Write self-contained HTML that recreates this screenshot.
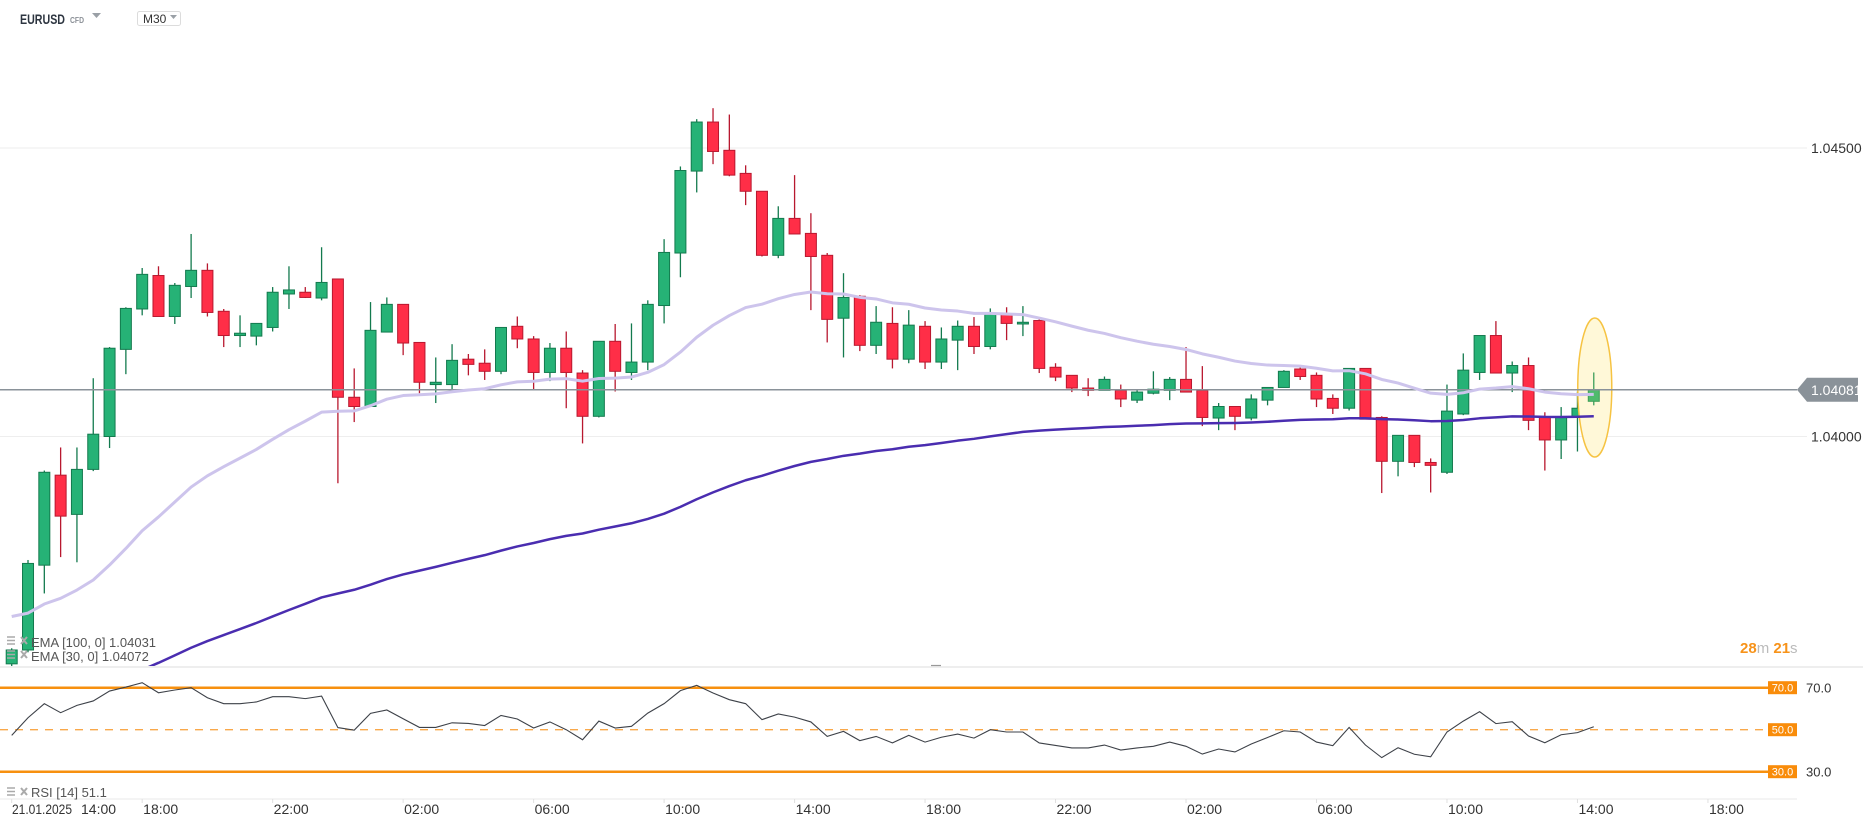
<!DOCTYPE html>
<html><head><meta charset="utf-8"><style>
html,body{margin:0;padding:0;background:#fff;}
body{width:1866px;height:826px;overflow:hidden;position:relative;font-family:"Liberation Sans",sans-serif;}
svg{position:absolute;left:0;top:0;}
</style></head><body>
<svg id="chart" width="1866" height="826" viewBox="0 0 1866 826" xmlns="http://www.w3.org/2000/svg">
  <defs><clipPath id="mainClip"><rect x="0" y="0" width="1800" height="666"/></clipPath></defs>
  <g>
    <text x="20" y="24" font-size="14" font-weight="bold" fill="#2d3540" textLength="45" lengthAdjust="spacingAndGlyphs">EURUSD</text>
    <text x="70" y="23" font-size="8" font-weight="bold" fill="#8a8f96" textLength="14" lengthAdjust="spacingAndGlyphs">CFD</text>
    <path d="M92 13 L101 13 L96.5 18 Z" fill="#9aa0a6"/>
    <rect x="137.5" y="11.5" width="43" height="14" rx="2" fill="#fff" stroke="#dcdcdc"/>
    <text x="143" y="23" font-size="12" fill="#333">M30</text>
    <path d="M170 15 L177 15 L173.5 19 Z" fill="#9aa0a6"/>
  </g>
  <g id="grid"></g>
  <g id="candles" clip-path="url(#mainClip)"></g>
  <g id="emas" clip-path="url(#mainClip)"></g>
  <g id="priceaxis"></g>
  <g id="rsi"></g>
  <g id="timeaxis"></g>
  <g font-size="13" fill="#555">
    <g>
      <path d="M7 637h8M7 640.5h8M7 644h8" stroke="#aaa" stroke-width="1.6"/>
      <path d="M21 637l6 7M27 637l-6 7" stroke="#aaa" stroke-width="2"/>
      <text x="31" y="647">EMA [100, 0] 1.04031</text>
    </g>
    <g>
      <path d="M7 651h8M7 654.5h8M7 658h8" stroke="#aaa" stroke-width="1.6"/>
      <path d="M21 651l6 7M27 651l-6 7" stroke="#aaa" stroke-width="2"/>
      <text x="31" y="661">EMA [30, 0] 1.04072</text>
    </g>
    <g>
      <path d="M7 788h8M7 791.5h8M7 795h8" stroke="#aaa" stroke-width="1.6"/>
      <path d="M21 788l6 7M27 788l-6 7" stroke="#aaa" stroke-width="2"/>
      <text x="31" y="797">RSI [14] 51.1</text>
    </g>
  </g>
  <text x="1740" y="653" font-size="15"><tspan fill="#f7931a" font-weight="bold">28</tspan><tspan fill="#bbb">m </tspan><tspan fill="#f7931a" font-weight="bold">21</tspan><tspan fill="#bbb">s</tspan></text>
</svg>
<script>
const opens=[1.03606,1.03630,1.03777,1.03933,1.03865,1.03943,1.04000,1.04151,1.04221,1.04279,
1.04208,1.04260,1.04288,1.04217,1.04175,1.04174,1.04189,1.04247,1.04250,1.04240,
1.04273,1.04068,1.04052,1.04181,1.04229,1.04163,1.04090,1.04090,1.04134,1.04127,
1.04113,1.04191,1.04169,1.04111,1.04153,1.04110,1.04035,1.04165,1.04111,1.04129,
1.04227,1.04318,1.04460,1.04545,1.04496,1.04456,1.04425,1.04314,1.04378,1.04352,
1.04314,1.04205,1.04243,1.04158,1.04196,1.04134,1.04191,1.04129,1.04167,1.04191,
1.04156,1.04212,1.04195,1.04201,1.04120,1.04106,1.04084,1.04080,1.04080,1.04063,
1.04075,1.04080,1.04099,1.04080,1.04032,1.04052,1.04032,1.04063,1.04085,1.04117,
1.04106,1.04066,1.04049,1.04118,1.04033,1.03957,1.04002,1.03955,1.03938,1.04039,
1.04111,1.04175,1.04110,1.04123,1.04033,1.03994,1.04033,1.04061];
const highs=[1.03633,1.03786,1.03941,1.03981,1.03981,1.04101,1.04155,1.04224,1.04292,1.04295,
1.04266,1.04351,1.04300,1.04221,1.04210,1.04196,1.04259,1.04295,1.04259,1.04328,
1.04273,1.04118,1.04233,1.04241,1.04229,1.04163,1.04137,1.04160,1.04143,1.04151,
1.04189,1.04208,1.04174,1.04162,1.04182,1.04115,1.04165,1.04195,1.04196,1.04236,
1.04342,1.04468,1.04550,1.04569,1.04558,1.04470,1.04425,1.04399,1.04453,1.04387,
1.04318,1.04283,1.04245,1.04226,1.04224,1.04219,1.04200,1.04189,1.04201,1.04207,
1.04222,1.04224,1.04226,1.04205,1.04127,1.04106,1.04101,1.04104,1.04090,1.04082,
1.04113,1.04103,1.04155,1.04122,1.04058,1.04052,1.04073,1.04085,1.04115,1.04120,
1.04111,1.04073,1.04118,1.04118,1.04035,1.04002,1.04002,1.03962,1.04090,1.04144,
1.04175,1.04200,1.04130,1.04137,1.04042,1.04051,1.04078,1.04111];
const lows=[1.03598,1.03626,1.03728,1.03791,1.03782,1.03940,1.03980,1.04108,1.04210,1.04208,
1.04195,1.04240,1.04208,1.04155,1.04155,1.04158,1.04182,1.04221,1.04240,1.04236,
1.03919,1.04025,1.04052,1.04181,1.04141,1.04075,1.04058,1.04082,1.04106,1.04098,
1.04108,1.04153,1.04080,1.04096,1.04049,1.03988,1.04033,1.04078,1.04098,1.04115,
1.04196,1.04276,1.04423,1.04472,1.04451,1.04401,1.04312,1.04309,1.04351,1.04219,
1.04163,1.04137,1.04148,1.04143,1.04118,1.04127,1.04117,1.04117,1.04115,1.04143,
1.04151,1.04167,1.04174,1.04110,1.04096,1.04077,1.04070,1.04080,1.04051,1.04058,
1.04073,1.04063,1.04077,1.04018,1.04011,1.04011,1.04028,1.04054,1.04085,1.04098,
1.04051,1.04039,1.04045,1.04030,1.03902,1.03931,1.03947,1.03903,1.03935,1.04037,
1.04098,1.04110,1.04077,1.04011,1.03941,1.03961,1.03974,1.04054];
const closes=[1.03630,1.03780,1.03938,1.03862,1.03943,1.04004,1.04153,1.04222,1.04281,1.04208,
1.04262,1.04288,1.04215,1.04175,1.04179,1.04196,1.04250,1.04254,1.04241,1.04267,
1.04068,1.04052,1.04184,1.04229,1.04162,1.04094,1.04094,1.04132,1.04125,1.04113,
1.04189,1.04169,1.04111,1.04153,1.04111,1.04035,1.04165,1.04113,1.04129,1.04229,
1.04319,1.04461,1.04545,1.04494,1.04453,1.04425,1.04314,1.04378,1.04351,1.04312,
1.04203,1.04241,1.04158,1.04198,1.04134,1.04193,1.04129,1.04169,1.04191,1.04156,
1.04212,1.04196,1.04198,1.04118,1.04103,1.04084,1.04080,1.04099,1.04065,1.04077,
1.04082,1.04099,1.04077,1.04033,1.04052,1.04035,1.04065,1.04085,1.04113,1.04104,
1.04065,1.04049,1.04118,1.04030,1.03957,1.04002,1.03955,1.03950,1.04044,1.04115,
1.04175,1.04110,1.04123,1.04028,1.03994,1.04033,1.04049,1.04081];
const rsiValues=[47.3,55.7,62.4,58.1,61.6,63.7,68.4,70.3,72.4,67.6,
68.9,70,65.2,62.4,62.4,63.2,65.7,65.7,64.8,66,
51,49.8,57.8,59.4,55.2,51.1,51.1,53.3,53,52,
56.8,55.1,50.8,53.7,50,45.2,54.1,50.8,51.6,57.9,
62.4,68.6,71.1,67.5,64.3,62.4,54.8,57.5,56,53.7,
46.8,49.2,44.8,46.8,43.7,47.3,44.1,46.4,47.9,46,
50,48.9,48.9,43.7,42.5,41.3,41.3,42.7,40.3,41.3,
42.1,44.1,42.1,38.4,40.8,39.4,43.2,46.3,49.5,48.9,
44.1,42.4,51.1,42.7,36.7,41.4,38.3,37.1,48.9,54.1,
58.6,52.9,53.8,47,43.8,47.6,48.6,51.4];
const ema30Seed=1.03692;
const ema100Seed=1.03518;
const priceTicks=[1.045,1.040];
const priceTickLabels=["1.04500","1.04000"];
const lastPrice=1.04081;
const rsiLevels=[70,50,30];
const rsiLevelLabels=["70.0","50.0","30.0"];
const timeTickIdx=[0,8,16,24,32,40,48,56,64,72,80,88,96,104];
const timeTickLabels=["14:00","18:00","22:00","02:00","06:00","10:00","14:00","18:00","22:00","02:00","06:00","10:00","14:00","18:00"];

const NS="http://www.w3.org/2000/svg";
function mk(tag,attrs,parent){const e=document.createElementNS(NS,tag);for(const k in attrs)e.setAttribute(k,attrs[k]);parent.appendChild(e);return e;}
const xAt=i=>11.7+16.31*i;
const yP=p=>436.5-(p-1.04)*57700;
const yR=r=>729.7-(r-50)*2.1;
const RIGHT=1797;

const grid=document.getElementById('grid');
priceTicks.forEach((p,k)=>{
  const l=mk('line',{x1:0,x2:1807,y1:yP(p),y2:yP(p),stroke:'#eeeeee','stroke-width':1},grid);
  
  
});
const pa=document.getElementById('priceaxis');
priceTicks.forEach((p,k)=>{
  const t=mk('text',{x:1811,y:yP(p)+5,'font-size':14,fill:'#333'},pa);
  t.textContent=priceTickLabels[k];
  
  
});

const cg=document.getElementById('candles');
for(let i=0;i<closes.length;i++){
  const up=closes[i]>=opens[i];
  const last=i===closes.length-1;
  const g=mk('g',{},cg);
  
  
  const x=xAt(i);
  if(last){
    const el=mk('ellipse',{cx:x+1,cy:387.5,rx:17,ry:69.5,fill:'#fff8d8',stroke:'#f6c342','stroke-width':1.5},g);
    
    
  }
  const edge=up?(last?'#3e9e5a':'#137a4e'):'#b8182f';
  const fill=up?(last?'#4fbb6d':'#26b276'):'#ff2e47';
  mk('line',{x1:x,x2:x,y1:yP(highs[i]),y2:yP(lows[i]),stroke:edge,'stroke-width':1.3},g);
  const top=yP(Math.max(opens[i],closes[i])),bot=yP(Math.min(opens[i],closes[i]));
  mk('rect',{x:x-5.5,y:top,width:11,height:Math.max(bot-top,1.5),fill:fill,stroke:edge,'stroke-width':1},g);
}

function ema(seed,n){const a=2/(n+1);let e=seed;const out=[];for(let i=0;i<closes.length;i++){e=e+a*(closes[i]-e);out.push(e);}return out;}
const eg=document.getElementById('emas');
const e30=ema(ema30Seed,30),e100=ema(ema100Seed,100);
const pl=mk('line',{x1:0,x2:RIGHT,y1:yP(lastPrice),y2:yP(lastPrice),stroke:'#8a9299','stroke-width':1.5},eg);


const p30=mk('polyline',{points:e30.map((v,i)=>xAt(i)+','+yP(v)).join(' '),fill:'none',stroke:'#cdc4ec','stroke-width':3,'stroke-linejoin':'round'},eg);


const p100=mk('polyline',{points:e100.map((v,i)=>xAt(i)+','+yP(v)).join(' '),fill:'none',stroke:'#4a2db0','stroke-width':2.5,'stroke-linejoin':'round'},eg);



const yl=yP(lastPrice);
const pb=mk('path',{d:`M${RIGHT} ${yl} L${RIGHT+10} ${yl-12} L1858 ${yl-12} L1858 ${yl+12} L${RIGHT+10} ${yl+12} Z`,fill:'#8a9299'},pa);


const pt=mk('text',{x:1811,y:yl+5,'font-size':14,fill:'#fff'},pa);
pt.textContent=lastPrice.toFixed(5);



const rg=document.getElementById('rsi');
const sep=mk('line',{x1:0,x2:1863,y1:667,y2:667,stroke:'#dddddd','stroke-width':1},rg);


mk('line',{x1:931,x2:941,y1:665.5,y2:665.5,stroke:'#999','stroke-width':1.2},rg);
rsiLevels.forEach((lv,k)=>{
  const dashed=lv===50;
  const l=mk('line',{x1:0,x2:1768,y1:yR(lv),y2:yR(lv),stroke:dashed?'#f9a84a':'#f7900f','stroke-width':dashed?1.3:2.5},rg);
  if(dashed)l.setAttribute('stroke-dasharray','8 7');
  
  
  const b=mk('rect',{x:1768,y:yR(lv)-6.5,width:29,height:13,fill:'#f98c0a'},rg);
  
  
  const t=mk('text',{x:1782.5,y:yR(lv)+4,'font-size':11,fill:'#fff','text-anchor':'middle'},rg);
  t.textContent=rsiLevelLabels[k];
  
  
  if(!dashed){
    const t2=mk('text',{x:1806,y:yR(lv)+5,'font-size':13,fill:'#333'},rg);
    t2.textContent=rsiLevelLabels[k];
    
    
  }
});
const rl=mk('polyline',{points:rsiValues.map((v,i)=>xAt(i)+','+yR(v)).join(' '),fill:'none',stroke:'#3d4148','stroke-width':1.1},rg);



const tg=document.getElementById('timeaxis');
mk('line',{x1:0,x2:RIGHT,y1:799,y2:799,stroke:'#e8e8e8','stroke-width':1},tg);
timeTickIdx.forEach((idx,k)=>{
  const x=xAt(idx);
  mk('line',{x1:x,x2:x,y1:799,y2:803,stroke:'#e0e0e0','stroke-width':1},tg);
  const t=mk('text',{x:idx===0?81:x+1,y:814,'font-size':14,fill:'#333'},tg);
  t.textContent=timeTickLabels[k];
  
  
});
const dt=mk('text',{x:12,y:814,'font-size':14,fill:'#333',textLength:60,lengthAdjust:'spacingAndGlyphs'},tg);
dt.textContent='21.01.2025';


</script>
</body></html>
